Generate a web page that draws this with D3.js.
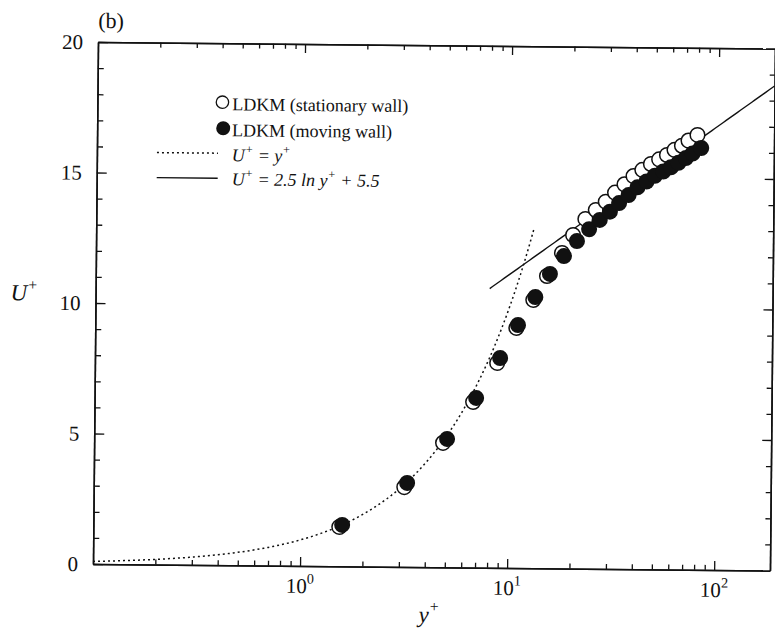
<!DOCTYPE html>
<html>
<head>
<meta charset="utf-8">
<script src="https://cdn.jsdelivr.net/npm/d3@7/dist/d3.min.js"></script>
<style>
  body { margin: 0; background: #fff; }
  svg { display: block; }
  text { font-family: "Liberation Serif", "Times New Roman", serif; fill: #111; }
</style>
</head>
<body>
<script>

// stationary wall (open circles)
const yPlusStationary = [1.54, 3.16, 4.84, 6.73, 8.76, 10.8, 13.0, 15.1, 17.8, 20.1,
    23.0, 25.8, 28.8, 31.9, 35.4, 39.1, 43.1, 47.4, 51.9, 56.6, 61.5, 66.8, 71.8, 79.3];
const uStationary = [1.51, 3.06, 4.77, 6.35, 7.85, 9.20, 10.28, 11.20, 12.09, 12.78,
    13.40, 13.75, 14.07, 14.42, 14.74, 15.06, 15.30, 15.53, 15.71, 15.88, 16.08, 16.24, 16.44, 16.66];

// moving wall (filled circles)
const yPlusMoving = [1.59, 3.26, 5.06, 6.96, 9.05, 11.0, 13.3, 15.6, 18.2, 21.0,
    24.0, 27.0, 30.2, 33.4, 37.1, 40.9, 45.2, 49.6, 54.4, 59.2, 64.4, 69.9, 75.2, 82.8];
const uMoving = [1.59, 3.22, 4.92, 6.50, 8.04, 9.31, 10.39, 11.28, 11.97, 12.55,
    13.01, 13.37, 13.69, 14.02, 14.33, 14.63, 14.86, 15.08, 15.25, 15.41, 15.59, 15.77, 15.95, 16.16];

const xDecades = [1, 10, 100];
const xDecadeExp = ["0", "1", "2"];
const yMajor = [0, 5, 10, 15, 20];
const yMinor = d3.range(0, 21);

// ranges over which the two reference laws are drawn
const linearLawRange = [0.1, 13];
const logLawRange = [8.0, 186];

function initSVG() {
    var svg = d3.select("body")
        .append("svg")
        .attr("width", 775)
        .attr("height", 632)
        .style("background-color", "#fff");
    return svg;
}

// text with superscript parts, e.g. U^+
function richText(sel, x, y, parts, size, italic) {
    const t = sel.append("text")
        .attr("x", x)
        .attr("y", y)
        .style("font-size", size + "px");
    if (italic) t.style("font-style", "italic");
    let shifted = 0;
    parts.forEach(p => {
        const dy = p.sup ? -size * 0.45 : 0;
        t.append("tspan")
            .attr("dy", dy - shifted)
            .style("font-size", p.sup ? (size * 0.68) + "px" : null)
            .text(p.t);
        shifted = dy;
    });
    return t;
}

function styleAxis(g) {
    g.select(".domain").attr("stroke", "#111").attr("stroke-width", 1.5);
    g.selectAll(".tick line").attr("stroke", "#111").attr("stroke-width", 1.3);
}

function draw() {
    const svg = initSVG();

    const left = 93, right = 770, top = 42, bottom = 564;

    const x = d3.scaleLog().domain([0.1, 186]).range([left, right]);
    const y = d3.scaleLinear().domain([0, 20]).range([bottom, top]);

    // the scanned figure is tilted a little clockwise
    const g = svg.append("g").attr("transform", `rotate(0.55, ${left}, ${bottom})`);

    const xMinor = x.ticks().filter(v => !xDecades.includes(v) && v > 0.1);

    // bottom axis
    g.append("g").attr("transform", `translate(0,${bottom})`)
        .call(d3.axisBottom(x).tickValues(xMinor).tickSize(-5).tickSizeOuter(0).tickFormat(""))
        .call(styleAxis);
    g.append("g").attr("transform", `translate(0,${bottom})`)
        .call(d3.axisBottom(x).tickValues(xDecades).tickSize(-9).tickSizeOuter(0).tickFormat(""))
        .call(styleAxis);

    // top axis
    g.append("g").attr("transform", `translate(0,${top})`)
        .call(d3.axisTop(x).tickValues(xMinor).tickSize(-5).tickSizeOuter(0).tickFormat(""))
        .call(styleAxis);
    g.append("g").attr("transform", `translate(0,${top})`)
        .call(d3.axisTop(x).tickValues(xDecades).tickSize(-9).tickSizeOuter(0).tickFormat(""))
        .call(styleAxis);

    // left axis
    g.append("g").attr("transform", `translate(${left},0)`)
        .call(d3.axisLeft(y).tickValues(yMinor.filter(v => v % 5)).tickSize(-6).tickSizeOuter(0).tickFormat(""))
        .call(styleAxis);
    g.append("g").attr("transform", `translate(${left},0)`)
        .call(d3.axisLeft(y).tickValues(yMajor).tickSize(-10).tickSizeOuter(0).tickPadding(15))
        .call(styleAxis)
        .call(a => a.selectAll("text")
            .attr("fill", "#111")
            .style("font-size", "21px")
            .style("font-family", "'Liberation Serif', serif"));

    // right axis
    g.append("g").attr("transform", `translate(${right},0)`)
        .call(d3.axisRight(y).tickValues(yMinor.filter(v => v % 5)).tickSize(-5).tickSizeOuter(0).tickFormat(""))
        .call(styleAxis);
    g.append("g").attr("transform", `translate(${right},0)`)
        .call(d3.axisRight(y).tickValues(yMajor).tickSize(-9).tickSizeOuter(0).tickFormat(""))
        .call(styleAxis);

    // decade labels 10^n
    xDecades.forEach((v, i) => {
        richText(g, x(v), bottom + 27, [{t: "10"}, {t: xDecadeExp[i], sup: true}], 21, false)
            .attr("text-anchor", "middle");
    });

    // axis titles
    richText(g, 8, 301, [{t: "U"}, {t: "+", sup: true}], 23, true);
    richText(g, 419, 619, [{t: "y"}, {t: "+", sup: true}], 23, true);
    g.append("text").attr("x", 93).attr("y", 28).style("font-size", "22px").text("(b)");

    // reference laws
    const linearPts = d3.range(0, 101).map(i => {
        const v = linearLawRange[0] * Math.pow(linearLawRange[1] / linearLawRange[0], i / 100);
        return [v, v];
    });
    const logPts = d3.range(0, 101).map(i => {
        const v = logLawRange[0] * Math.pow(logLawRange[1] / logLawRange[0], i / 100);
        return [v, 2.5 * Math.log(v) + 5.5];
    });
    const line = d3.line().x(d => x(d[0])).y(d => y(d[1]));

    g.append("path").datum(linearPts)
        .attr("d", line)
        .attr("fill", "none")
        .attr("stroke", "#111")
        .attr("stroke-width", 1.5)
        .attr("stroke-dasharray", "2,3");
    g.append("path").datum(logPts)
        .attr("d", line)
        .attr("fill", "none")
        .attr("stroke", "#111")
        .attr("stroke-width", 1.4);

    // data
    g.append("g").selectAll("circle")
        .data(d3.zip(yPlusStationary, uStationary))
        .join("circle")
        .attr("cx", d => x(d[0]))
        .attr("cy", d => y(d[1]))
        .attr("r", 7.3)
        .attr("fill", "#fff")
        .attr("stroke", "#111")
        .attr("stroke-width", 1.5);
    g.append("g").selectAll("circle")
        .data(d3.zip(yPlusMoving, uMoving))
        .join("circle")
        .attr("cx", d => x(d[0]))
        .attr("cy", d => y(d[1]))
        .attr("r", 8)
        .attr("fill", "#111");

    // legend
    const lg = g.append("g");
    lg.append("circle").attr("cx", 218).attr("cy", 101).attr("r", 6.2)
        .attr("fill", "#fff").attr("stroke", "#111").attr("stroke-width", 1.3);
    lg.append("text").attr("x", 228).attr("y", 109).style("font-size", "18px").text("LDKM (stationary wall)");
    lg.append("circle").attr("cx", 219).attr("cy", 127).attr("r", 7)
        .attr("fill", "#111");
    lg.append("text").attr("x", 228).attr("y", 135).style("font-size", "18px").text("LDKM (moving wall)");

    lg.append("line").attr("x1", 153).attr("x2", 214).attr("y1", 152).attr("y2", 152)
        .attr("stroke", "#111").attr("stroke-width", 1.5).attr("stroke-dasharray", "2,3");
    richText(lg, 228, 160, [{t: "U"}, {t: "+", sup: true}, {t: " = y"}, {t: "+", sup: true}], 18, true);

    lg.append("line").attr("x1", 153).attr("x2", 214).attr("y1", 177).attr("y2", 177)
        .attr("stroke", "#111").attr("stroke-width", 1.4);
    richText(lg, 228, 184, [{t: "U"}, {t: "+", sup: true}, {t: " = 2.5 ln y"}, {t: "+", sup: true}, {t: " + 5.5"}], 18, true);
}

document.onreadystatechange = () => {
    if (document.readyState === "complete") {
        draw();
    }
};
</script>
</body>
</html>
